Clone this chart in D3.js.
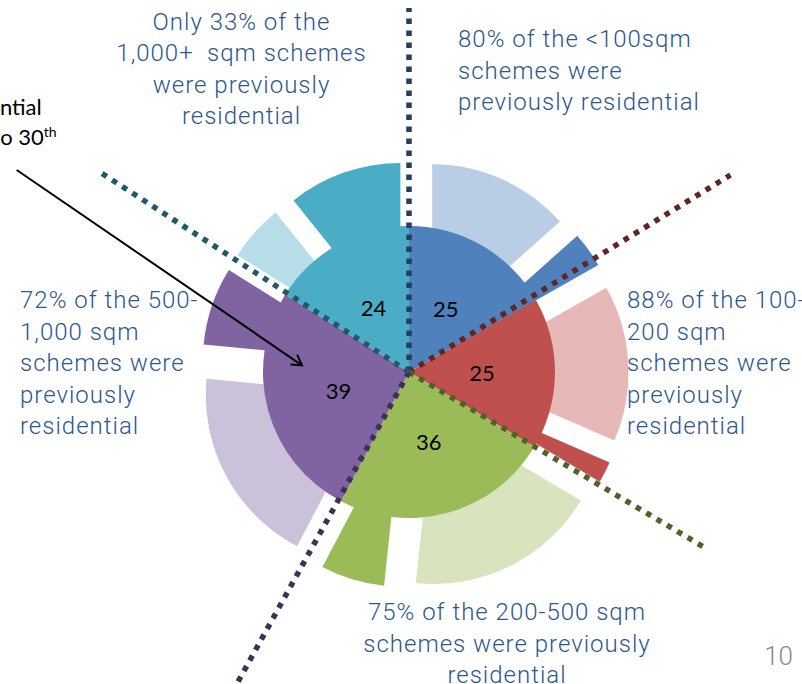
<!DOCTYPE html>
<html>
<head>
<meta charset="utf-8">
<script src="https://cdn.jsdelivr.net/npm/d3@7"></script>
<style>
  html, body { margin: 0; padding: 0; background: #fff; }
  svg { display: block; }
  .label { font-family: Roboto, "Liberation Sans", sans-serif; font-weight: 300; fill: #2c5790; font-size: 24px; letter-spacing: 1px; }
  .num { font-family: Lato, "Open Sans", sans-serif; font-size: 22px; fill: #000; }
  .note { font-family: Lato, "Open Sans", sans-serif; font-size: 22px; fill: #000; }
</style>
</head>
<body>
<div id="svg-container"></div>
<script>
////////////////////////////////////////////////////////////////////
////////////////////////////  Data  ////////////////////////////////

// categories clockwise from 12 o'clock
const categories = ["<100sqm", "100-200 sqm", "200-500 sqm", "500-1,000 sqm", "1,000+ sqm"];
const schemes = [25, 25, 36, 39, 24];
const residential = [20, 22, 27, 28, 8]; // previously residential
const nonResidential = [5, 3, 9, 11, 16];
const pctResidential = [80, 88, 75, 72, 33];

const labelLines = [
  ["80% of the <100sqm", "schemes were", "previously residential"],
  ["88% of the 100-", "200 sqm", "schemes were", "previously", "residential"],
  ["75% of the 200-500 sqm", "schemes were previously", "residential"],
  ["72% of the 500-", "1,000 sqm", "schemes were", "previously", "residential"],
  ["Only 33% of the", "1,000+\u2002sqm schemes", "were previously", "residential"]
];

////////////////////////////////////////////////////////////////////
////////////////////////////  Style / layout  //////////////////////

const darkColors = ["#4f81bd", "#c0504d", "#9bbb59", "#8064a2", "#4bacc6"];
const lightColors = ["#b9cde5", "#e6b9b8", "#d7e4bd", "#ccc1da", "#b7dee8"];
const lineColors = ["#243f60", "#632523", "#4f6228", "#3f3151", "#215968"];

// label anchor points (x, first baseline, anchor)
const labelPos = [
  { x: 458, y: 47, anchor: "start" },
  { x: 627, y: 308, anchor: "start" },
  { x: 507, y: 620, anchor: "middle" },
  { x: 20, y: 308, anchor: "start" },
  { x: 241.5, y: 29.5, anchor: "middle" }
];
const lineGap = 31.6;

// divider lines drawn by hand in the original: angle (deg) and length
const dividerAngle = [0, 58.5, 120.7, 208.9, 302.9];
const dividerLength = [364, 377, 344, 355, 368];

const width = 802, height = 684;
const inner = { cx: 409, cy: 372, r: 146 };
const outer = { cx: 414.6, cy: 374.5, r: 171, explode: 43 };

const svg = d3.select("#svg-container").append("svg")
  .attr("width", width).attr("height", height);

svg.append("defs").append("marker")
  .attr("id", "arrow")
  .attr("viewBox", "-12 -8 14 16")
  .attr("refX", 0).attr("refY", 0)
  .attr("markerWidth", 14).attr("markerHeight", 16)
  .attr("markerUnits", "userSpaceOnUse")
  .attr("orient", "auto")
  .append("path")
  .attr("d", "M-10,-6 L0,0 L-10,6")
  .attr("fill", "none").attr("stroke", "#000").attr("stroke-width", 2);

const pie = d3.pie().sort(null).value((d) => d);

////////////////////////////////////////////////////////////////////
////////////////////////////  Outer (exploded) pie  ////////////////

const outerValues = schemes.flatMap((_, i) => [residential[i], nonResidential[i]]);
const outerArc = d3.arc().innerRadius(0).outerRadius(outer.r);

svg.append("g")
  .attr("transform", `translate(${outer.cx},${outer.cy})`)
  .selectAll("path")
  .data(pie(outerValues))
  .join("path")
  .attr("d", outerArc)
  .attr("transform", (d) => {
    const [x, y] = d3.pointRadial((d.startAngle + d.endAngle) / 2, outer.explode);
    return `translate(${x},${y})`;
  })
  .attr("fill", (d, i) => (i % 2 === 0 ? lightColors[i >> 1] : darkColors[i >> 1]));

////////////////////////////////////////////////////////////////////
////////////////////////////  Inner pie  ///////////////////////////

const innerArc = d3.arc().innerRadius(0).outerRadius(inner.r);
const gInner = svg.append("g").attr("transform", `translate(${inner.cx},${inner.cy})`);

const innerData = pie(schemes);
gInner.selectAll("path")
  .data(innerData)
  .join("path")
  .attr("d", innerArc)
  .attr("fill", (d, i) => darkColors[i]);

gInner.selectAll("text")
  .data(innerData)
  .join("text")
  .attr("class", "num")
  .attr("x", (d) => innerArc.centroid(d)[0])
  .attr("y", (d) => innerArc.centroid(d)[1])
  .attr("text-anchor", "middle")
  .attr("dy", "0.36em")
  .text((d) => d.data);

// dotted dividers
gInner.selectAll("line")
  .data(dividerAngle)
  .join("line")
  .attr("x1", 0).attr("y1", 0)
  .attr("x2", (d, i) => d3.pointRadial(d * Math.PI / 180, dividerLength[i])[0])
  .attr("y2", (d, i) => d3.pointRadial(d * Math.PI / 180, dividerLength[i])[1])
  .attr("stroke", (d, i) => lineColors[i])
  .attr("stroke-width", 5.5)
  .attr("stroke-dasharray", "5.5 6.5");

////////////////////////////////////////////////////////////////////
////////////////////////////  Annotations  /////////////////////////

svg.append("line")
  .attr("x1", 16.7).attr("y1", 170)
  .attr("x2", 302).attr("y2", 365.3)
  .attr("stroke", "#000").attr("stroke-width", 2)
  .attr("marker-end", "url(#arrow)");

svg.append("text").attr("class", "note")
  .attr("x", 41.7).attr("y", 115).attr("text-anchor", "end")
  .text("residential");

const note2 = svg.append("text").attr("class", "note")
  .attr("x", 56.7).attr("y", 145).attr("text-anchor", "end");
note2.append("tspan").text("up to 30");
note2.append("tspan").attr("dy", -8).style("font-size", "14px").text("th");

labelLines.forEach((lines, i) => {
  const p = labelPos[i];
  svg.append("text")
    .attr("class", "label")
    .attr("text-anchor", p.anchor)
    .selectAll("tspan")
    .data(lines)
    .join("tspan")
    .attr("x", p.x)
    .attr("y", (d, j) => p.y + j * lineGap)
    .text((d) => d);
});

// page number
svg.append("text")
  .attr("x", 793).attr("y", 665)
  .attr("text-anchor", "end")
  .style("font-family", "Roboto, 'Liberation Sans', sans-serif")
  .style("font-weight", 300)
  .style("font-size", "26px")
  .style("fill", "#8a8a8a")
  .text("10");
</script>
</body>
</html>
